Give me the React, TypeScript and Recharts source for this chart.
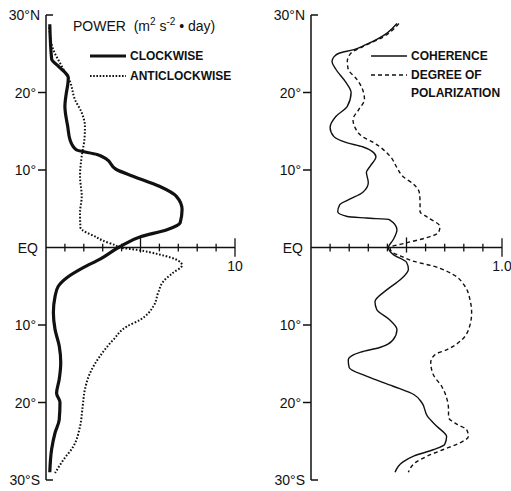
import React from 'react';
import { LineChart, Line, XAxis, YAxis, ReferenceLine, Legend } from 'recharts';

// latitude ticks (deg, + = north)
const latTicks = [30, 20, 10, 0, -10, -20, -30];
const powerTicks = [1, 2, 3, 4, 5, 6, 7, 8, 9, 10];
const ratioTicks = [0.1, 0.2, 0.3, 0.4, 0.5, 0.6, 0.7, 0.8, 0.9, 1.0];

// [latitude, power m2 s-2 day]
const clockwise: [number, number][] = [
  [28.8, 0.2], [24.3, 0.3], [23.4, 0.65], [21.9, 1.18], [21.0, 1.15], [20, 1.08],
  [18.2, 1.0], [15.6, 1.15], [13.9, 1.27], [12.6, 1.6], [12.0, 2.7], [11.4, 3.2],
  [10.1, 3.7], [9.2, 4.6], [7.9, 6.0], [6.6, 6.9], [4.9, 7.2], [3.2, 7.1],
  [2.3, 6.4], [1.4, 5.0], [0.1, 3.9], [-1.5, 2.86], [-2.6, 1.97], [-3.9, 1.1],
  [-5, 0.65], [-6.3, 0.48], [-8.4, 0.39], [-10.6, 0.48], [-12.7, 0.7], [-14.8, 0.78],
  [-17, 0.7], [-18.8, 0.56], [-20, 0.74], [-22.2, 0.7], [-23.9, 0.48], [-26, 0.3],
  [-29, 0.2],
];

const anticlockwise: [number, number][] = [
  [28.4, 0.17], [25.5, 0.39], [23.4, 0.83], [21.4, 1.27], [19.1, 1.53], [17.4, 1.89],
  [15.6, 2.06], [13.9, 2.03], [11.8, 1.89], [9.2, 1.8], [6.6, 1.89], [4.5, 1.8],
  [2.6, 1.82], [1.3, 2.68], [0.9, 3.0], [0.25, 3.7], [0, 3.9], [-0.3, 4.8],
  [-0.9, 6.0], [-1.7, 7.0], [-2.3, 7.2], [-3.3, 6.7], [-4.4, 6.2], [-5.8, 5.94],
  [-7.6, 5.68], [-9.3, 5.0], [-10.2, 4.27], [-11.9, 3.56], [-14, 2.86], [-16.2, 2.33],
  [-18.3, 2.06], [-20.5, 1.94], [-23.1, 1.8], [-25.7, 1.44], [-27.4, 0.92], [-29.1, 0.48],
];

// [latitude, ratio]
const coherence: [number, number][] = [
  [28.9, 0.45], [27.7, 0.4], [26.2, 0.29], [25.5, 0.22], [25.1, 0.15], [24.6, 0.12],
  [24, 0.11], [23, 0.13], [21.4, 0.18], [20, 0.21], [18.2, 0.19], [16.9, 0.13],
  [15.5, 0.1], [14.3, 0.12], [13.5, 0.19], [13, 0.27], [12.4, 0.32], [11.7, 0.34],
  [10.5, 0.31], [9.7, 0.29], [8.4, 0.3], [7.1, 0.27], [6.2, 0.2], [5.5, 0.15],
  [4.6, 0.14], [4.0, 0.19], [3.8, 0.29], [3.6, 0.41], [2.3, 0.45], [1, 0.43],
  [0, 0.405], [-0.9, 0.43], [-1.9, 0.5], [-2.8, 0.51], [-4.1, 0.47], [-5.4, 0.4],
  [-7, 0.335], [-8, 0.344], [-9.3, 0.41], [-10.6, 0.45], [-11.9, 0.43], [-12.9, 0.36],
  [-13.5, 0.26], [-14.5, 0.195], [-15.5, 0.2], [-16.6, 0.29], [-17.9, 0.43], [-19, 0.54],
  [-20, 0.58], [-21.8, 0.61], [-23.1, 0.66], [-24.4, 0.71], [-25.4, 0.7], [-26.1, 0.64],
  [-26.9, 0.54], [-27.7, 0.48], [-29, 0.44],
];

const polarization: [number, number][] = [
  [28.9, 0.46], [27.2, 0.38], [25.9, 0.27], [25.1, 0.21], [24, 0.19], [23, 0.195],
  [21.7, 0.24], [20.4, 0.27], [19.1, 0.28], [17.8, 0.25], [16.5, 0.22], [15.5, 0.23],
  [14.3, 0.27], [13.5, 0.33], [12.6, 0.38], [11.6, 0.42], [10.3, 0.45], [9.2, 0.48],
  [8.1, 0.54], [7.1, 0.567], [5.8, 0.571], [4.6, 0.571], [3.9, 0.61], [2.7, 0.675],
  [1.9, 0.667], [1.3, 0.61], [0.6, 0.5], [0, 0.414], [-0.5, 0.42], [-1.1, 0.47],
  [-1.8, 0.54], [-2.4, 0.64], [-3.5, 0.745], [-5, 0.806], [-6.7, 0.832], [-8.4, 0.841],
  [-10.3, 0.829], [-11.9, 0.79], [-13.2, 0.71], [-13.8, 0.65], [-14.8, 0.627], [-16.4, 0.64],
  [-17.9, 0.684], [-19.4, 0.71], [-20.9, 0.72], [-21.9, 0.72], [-22.8, 0.763], [-23.5, 0.815],
  [-24.4, 0.824], [-25.2, 0.78], [-26.1, 0.69], [-26.9, 0.61], [-27.7, 0.55], [-29, 0.51],
];

const FONT = '"Liberation Sans", Arial, Helvetica, sans-serif';
const INK = '#111';

const toRows = (s: [number, number][]) => s.map(([lat, v]) => ({ lat, v }));

const latLabel = (v: number) =>
  v === 30 ? '30°N' : v === -30 ? '30°S' : v === 0 ? 'EQ' : `${Math.abs(v)}°`;

const LatTick = (props: any) => {
  const { x, y, payload } = props;
  const v = payload.value;
  const end = Math.abs(v) === 30;
  return (
    <g>
      {v !== 0 && (
        <line x1={end ? x : x - 8} x2={end ? x + 7 : x} y1={y} y2={y} stroke={INK} strokeWidth={1.5} />
      )}
      <text x={x - (end ? 6 : v === 0 ? 8 : 10)} y={y} dy="0.36em" textAnchor="end"
        fontFamily={FONT} fontSize={14} fill={INK}>
        {latLabel(v)}
      </text>
    </g>
  );
};

const Sample = ({ dash, width }: { dash?: string; width: number }) => (
  <svg width={36} height={8} style={{ marginRight: 4, verticalAlign: 'middle' }}>
    <line x1={0} x2={36} y1={4} y2={4} stroke={INK} strokeWidth={width} strokeDasharray={dash} />
  </svg>
);

const rowStyle: React.CSSProperties = { display: 'flex', alignItems: 'center', height: 20 };
const keyText: React.CSSProperties = { fontSize: 12, fontWeight: 700 };

const PowerLegend = () => (
  <div style={{ fontFamily: FONT, color: INK }}>
    <div style={{ fontSize: 14, marginBottom: 12, whiteSpace: 'nowrap' }}>
      POWER&nbsp;&nbsp;(m<sup style={{ fontSize: 10 }}>2</sup> s<sup style={{ fontSize: 10 }}>-2</sup> • day)
    </div>
    <div style={{ marginLeft: 17 }}>
      <div style={rowStyle}><Sample width={3} /><span style={keyText}>CLOCKWISE</span></div>
      <div style={rowStyle}><Sample width={2} dash="1.6 1.6" /><span style={keyText}>ANTICLOCKWISE</span></div>
    </div>
  </div>
);

const RatioLegend = () => (
  <div style={{ fontFamily: FONT, color: INK }}>
    <div style={rowStyle}><Sample width={1.4} /><span style={keyText}>COHERENCE</span></div>
    <div style={{ display: 'flex', alignItems: 'flex-start' }}>
      <div style={{ height: 18, display: 'flex', alignItems: 'center' }}>
        <Sample width={1.4} dash="4 3" />
      </div>
      <span style={{ ...keyText, lineHeight: '18px' }}>DEGREE OF<br />POLARIZATION</span>
    </div>
  </div>
);

// axis tick marks on the equator line; major (5 / 0.5) and end (10 / 1.0) ticks are longer
const tickSeg = (t: number, major: number) => {
  const up = t === major ? 1.3 : t === major * 2 ? 1.2 : 0.5;
  const down = t === major ? 0.65 : t === major * 2 ? 1.2 : 0.5;
  return [{ x: t, y: up }, { x: t, y: -down }] as any;
};

export default function App() {
  return (
    <div style={{ position: 'absolute', left: 0, top: 0, width: 511, height: 491, background: '#fff', display: 'flex' }}>
      {/* power spectra */}
      <LineChart layout="vertical" width={255} height={491} margin={{ top: 15, right: 20, bottom: 11, left: 0 }}>
        <XAxis type="number" dataKey="v" domain={[0, 10]} hide />
        <YAxis type="number" dataKey="lat" domain={[-30, 30]} ticks={latTicks} interval={0} reversed
          width={46} tickSize={0} tickMargin={0} tick={<LatTick />} axisLine={{ stroke: INK, strokeWidth: 1.5 }}
          allowDataOverflow />
        <ReferenceLine y={0} stroke={INK} strokeWidth={1.5} />
        {powerTicks.map((t) => (
          <ReferenceLine key={t} segment={tickSeg(t, 5)} stroke={INK} strokeWidth={1.3}
            label={t === 10 ? { value: '10', position: 'bottom', offset: 4, fontSize: 14, fill: INK, fontFamily: FONT } : undefined} />
        ))}
        <Line data={toRows(clockwise)} dataKey="v" type="monotone" stroke={INK} strokeWidth={3.2}
          dot={false} isAnimationActive={false} />
        <Line data={toRows(anticlockwise)} dataKey="v" type="monotone" stroke={INK} strokeWidth={2}
          strokeDasharray="1.6 1.8" dot={false} isAnimationActive={false} />
        <Legend layout="vertical" align="center" verticalAlign="middle" content={<PowerLegend />}
          wrapperStyle={{ top: 16, left: 73, width: 'auto' }} />
      </LineChart>

      {/* coherence / polarization */}
      <LineChart layout="vertical" width={256} height={491} margin={{ top: 15, right: 9, bottom: 11, left: 0 }}>
        <XAxis type="number" dataKey="v" domain={[0, 1]} hide />
        <YAxis type="number" dataKey="lat" domain={[-30, 30]} ticks={latTicks} interval={0} reversed
          width={56} tickSize={0} tickMargin={0} tick={<LatTick />} axisLine={{ stroke: INK, strokeWidth: 1.5 }}
          allowDataOverflow />
        <ReferenceLine y={0} stroke={INK} strokeWidth={1.5} />
        {ratioTicks.map((t) => (
          <ReferenceLine key={t} segment={tickSeg(t, 0.5)} stroke={INK} strokeWidth={1.3}
            label={t === 1.0 ? { value: '1.0', position: 'bottom', offset: 4, fontSize: 14, fill: INK, fontFamily: FONT } : undefined} />
        ))}
        <Line data={toRows(coherence)} dataKey="v" type="monotone" stroke={INK} strokeWidth={1.4}
          dot={false} isAnimationActive={false} />
        <Line data={toRows(polarization)} dataKey="v" type="monotone" stroke={INK} strokeWidth={1.4}
          strokeDasharray="4 3" dot={false} isAnimationActive={false} />
        <Legend layout="vertical" align="center" verticalAlign="middle" content={<RatioLegend />}
          wrapperStyle={{ top: 46, left: 116, width: 'auto' }} />
      </LineChart>
    </div>
  );
}
